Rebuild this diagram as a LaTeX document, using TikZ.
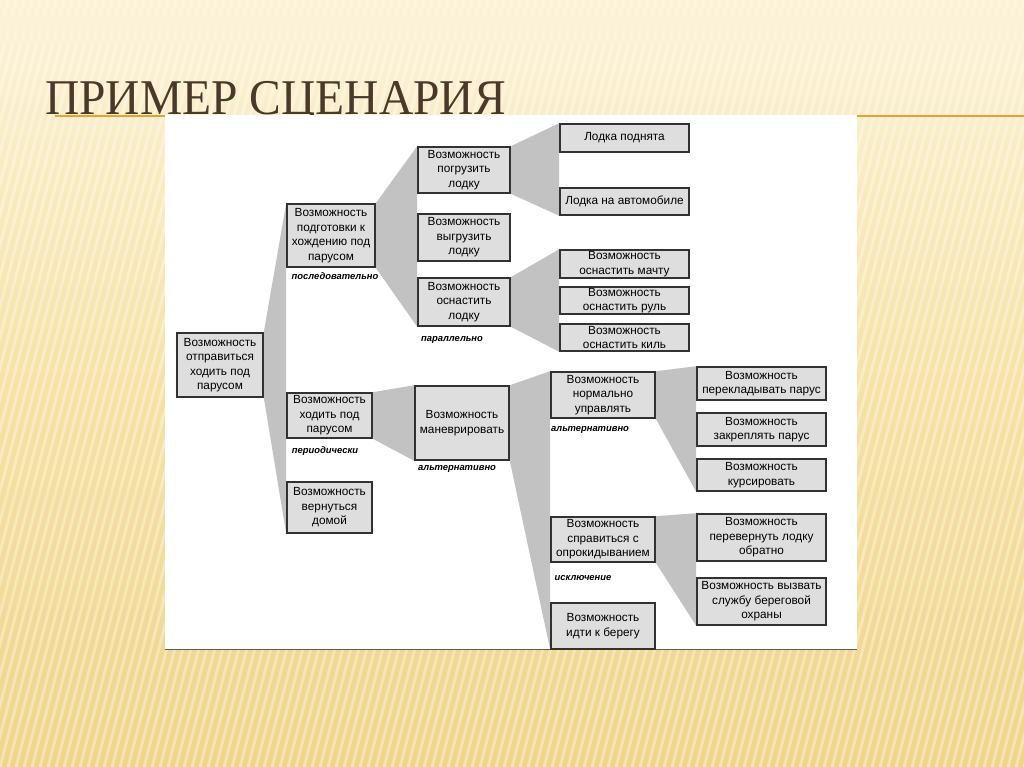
\documentclass[tikz,border=0pt]{standalone}
\usepackage{fontspec}
\setmainfont{Liberation Sans}
\newfontfamily\titlefont{Liberation Serif}[FakeStretch=0.95]
\definecolor{slidetop}{RGB}{252,243,216}
\definecolor{slidemid}{RGB}{246,226,166}
\definecolor{slidebot}{RGB}{240,212,138}
\definecolor{titlebrown}{RGB}{74,57,40}
\definecolor{ruleorange}{RGB}{232,160,52}
\definecolor{boxgray}{RGB}{222,222,222}
\definecolor{wedgegray}{RGB}{194,194,194}
\definecolor{edgegray}{RGB}{50,50,50}
\pgfdeclarelayer{slide}
\pgfdeclarelayer{wedges}
\pgfsetlayers{slide,wedges,main}

\begin{document}
\begin{tikzpicture}[x=1pt, y=-1pt,
    box/.style={draw=edgegray, line width=1.6pt, fill=boxgray, align=center, inner sep=1pt, font=\fontsize{11.8}{14.5}\selectfont},
    note/.style={font=\fontsize{9.4}{10}\selectfont\bfseries\itshape},
    wedge/.style={fill=wedgegray}]
    \useasboundingbox (0,0) rectangle (1024,767);

    % Slide background
    \begin{pgfonlayer}{slide}
        \shade[top color=slidetop, bottom color=slidebot, middle color=slidemid] (0,0) rectangle (1024,767);
        \begin{scope}
            \clip (0,0) rectangle (1024,767);
            \foreach \x in {-200,-192,...,1024}
                \draw[white, opacity=0.35, line width=3pt] (\x,767) -- (\x+200,0);
        \end{scope}
        \fill[slidetop, opacity=0.75] (0,0) rectangle (1024,45);
        \draw[ruleorange, line width=1.6pt] (55,116) -- (165,116);
        \draw[ruleorange, line width=1.6pt] (857,116) -- (1024,116);
        % Title
        \node[anchor=base west, inner sep=0pt, text=titlebrown, font=\titlefont\fontsize{50}{50}\selectfont] (title) at (45,115) {ПРИМЕР СЦЕНАРИЯ};
        \fill[white] (165,115) rectangle (857,650);
        \draw[gray!70!black, line width=1pt] (165,649.5) -- (857,649.5);
    \end{pgfonlayer}

    % Root
    \node[box, minimum width=86pt, minimum height=64pt] (root) at (220,365) {Возможность\\отправиться\\ходить под\\парусом};

    % Second level
    \node[box, minimum width=88pt, minimum height=63pt] (prep) at (331,235.5) {Возможность\\подготовки к\\хождению под\\парусом};
    \node[box, minimum width=85pt, minimum height=45pt] (sail) at (329.5,415.5) {Возможность\\ходить под\\парусом};
    \node[box, minimum width=85pt, minimum height=51pt] (home) at (329.5,507.5) {Возможность\\вернуться\\домой};
    \node[note] at (335,276) {последовательно};
    \node[note] at (325,451) {периодически};

    % Preparation
    \node[box, minimum width=92pt, minimum height=46pt] (load) at (464,170) {Возможность\\погрузить\\лодку};
    \node[box, minimum width=92pt, minimum height=47pt] (unload) at (464,237.5) {Возможность\\выгрузить\\лодку};
    \node[box, minimum width=92pt, minimum height=48pt] (rig) at (464,302) {Возможность\\оснастить\\лодку};
    \node[note] at (452,340) {параллельно};

    \node[box, minimum width=129pt, minimum height=28pt] (raised) at (624.5,138) {Лодка поднята};
    \node[box, minimum width=129pt, minimum height=27pt] (oncar) at (624.5,201.5) {Лодка на автомобиле};
    \node[box, minimum width=129pt, minimum height=28pt] (mast) at (624.5,264) {Возможность\\оснастить мачту};
    \node[box, minimum width=129pt, minimum height=27pt] (rudder) at (624.5,300.5) {Возможность\\оснастить руль};
    \node[box, minimum width=129pt, minimum height=27pt] (keel) at (624.5,337.5) {Возможность\\оснастить киль};

    % Manoeuvring
    \node[box, minimum width=94pt, minimum height=74pt] (manoeuvre) at (462,423) {Возможность\\маневрировать};
    \node[note] at (457,469) {альтернативно};

    \node[box, minimum width=104pt, minimum height=46pt] (steer) at (603,395) {Возможность\\нормально\\управлять};
    \node[box, minimum width=104pt, minimum height=45pt] (capsize) at (603,539.5) {Возможность\\справиться с\\опрокидыванием};
    \node[box, minimum width=104pt, minimum height=46pt] (shore) at (603,626) {Возможность\\идти к берегу};
    \node[note] at (590,430) {альтернативно};
    \node[note] at (583,578) {исключение};

    \node[box, minimum width=129pt, minimum height=33pt] (shift) at (761.5,383.5) {Возможность\\перекладывать парус};
    \node[box, minimum width=129pt, minimum height=33pt] (fix) at (761.5,429.5) {Возможность\\закреплять парус};
    \node[box, minimum width=129pt, minimum height=32pt] (course) at (761.5,475) {Возможность\\курсировать};
    \node[box, minimum width=129pt, minimum height=47pt] (rightboat) at (761.5,537.5) {Возможность\\перевернуть лодку\\обратно};
    \node[box, minimum width=129pt, minimum height=47pt] (coastguard) at (761.5,601.5) {Возможность вызвать\\службу береговой\\охраны};

    % Wedges
    \begin{pgfonlayer}{wedges}
        \fill[wedge] (root.north east) -- (prep.north west) -- (home.south west) -- (root.south east) -- cycle;
        \fill[wedge] (prep.north east) -- (load.north west) -- (rig.south west) -- (prep.south east) -- cycle;
        \fill[wedge] (load.north east) -- (raised.north west) -- (oncar.south west) -- (load.south east) -- cycle;
        \fill[wedge] (rig.north east) -- (mast.north west) -- (keel.south west) -- (rig.south east) -- cycle;
        \fill[wedge] (sail.north east) -- (manoeuvre.north west) -- (manoeuvre.south west) -- (sail.south east) -- cycle;
        \fill[wedge] (manoeuvre.north east) -- (steer.north west) -- (shore.south west) -- (manoeuvre.south east) -- cycle;
        \fill[wedge] (steer.north east) -- (shift.north west) -- (course.south west) -- (steer.south east) -- cycle;
        \fill[wedge] (capsize.north east) -- (rightboat.north west) -- (coastguard.south west) -- (capsize.south east) -- cycle;
    \end{pgfonlayer}
\end{tikzpicture}
\end{document}
